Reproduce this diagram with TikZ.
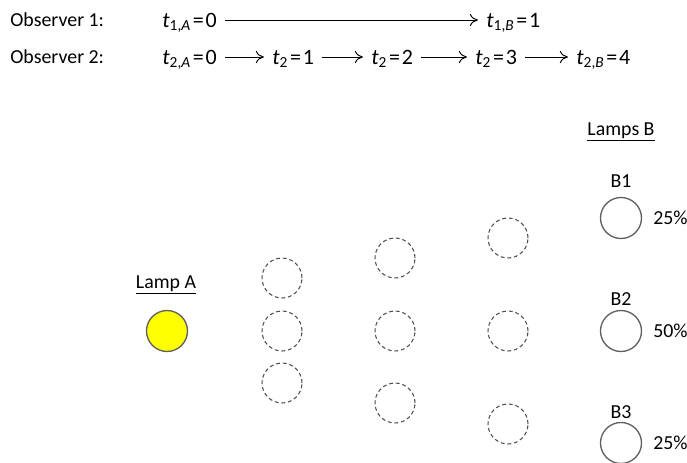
\documentclass[tikz,border=0pt]{standalone}
\usepackage{fontspec}
\setmainfont{Carlito}
\usepackage{xcolor}
\definecolor{lampline}{RGB}{95,95,95}
\definecolor{lampdash}{RGB}{80,80,80}
\definecolor{lampon}{RGB}{255,255,0}
\usepackage{tikz}
\usetikzlibrary{arrows.meta,positioning}

\newcommand{\tsub}[2]{\textit{t}\textsubscript{#1}\kern0.08em=\kern0.08em#2}

\begin{document}
\begin{tikzpicture}[
        x=0.02cm, y=-0.02cm,
        every node/.style={font=\fontsize{11.3}{13}\selectfont},
        lbl/.style={anchor=west, inner sep=0pt, text height=7.3pt, text depth=0pt},
        tlbl/.style={lbl, font=\fontsize{12.5}{14}\selectfont, text height=8pt},
        arrow/.style={-{To[length=4.6pt,width=7pt]}, line width=0.55pt, shorten <=4.6pt, shorten >=4.6pt},
        lamp/.style={circle, draw=lampline, line width=0.75pt, minimum size=0.82cm, inner sep=0pt},
        ghost/.style={circle, draw=lampdash, line width=0.6pt, dash pattern=on 2.2pt off 1.6pt, minimum size=0.8cm, inner sep=0pt}
    ]
        \useasboundingbox (0,0) rectangle (687,463);

        % observers
        \node[lbl] (obs1) at (10,20) {Observer 1:};
        \node[tlbl] (t1A) at (162,20) {\tsub{1,\textit{A}}{0}};
        \node[tlbl] (t1B) at (486,20) {\tsub{1,\textit{B}}{1}};
        \draw[arrow] (t1A) -- (t1B);

        \node[lbl] (obs2) at (10,57) {Observer 2:};
        \node[tlbl] (t2A) at (162,57) {\tsub{2,\textit{A}}{0}};
        \node[tlbl] (t21) at (272,57) {\tsub{2}{1}};
        \node[tlbl] (t22) at (371,57) {\tsub{2}{2}};
        \node[tlbl] (t23) at (475,57) {\tsub{2}{3}};
        \node[tlbl] (t2B) at (576,57) {\tsub{2,\textit{B}}{4}};
        \draw[arrow] (t2A) -- (t21);
        \draw[arrow] (t21) -- (t22);
        \draw[arrow] (t22) -- (t23);
        \draw[arrow] (t23) -- (t2B);

        % lamp A
        \node (lampAlbl) at (166,285) {\underline{Lamp A}};
        \node[lamp, fill=lampon] (lampA) at (167,331) {};

        % intermediate positions
        \node[ghost] (g1a) at (282,278) {};
        \node[ghost] (g1b) at (282,331) {};
        \node[ghost] (g1c) at (282,383) {};
        \node[ghost] (g2a) at (395,258) {};
        \node[ghost] (g2b) at (395,331) {};
        \node[ghost] (g2c) at (395,403) {};
        \node[ghost] (g3a) at (508,238) {};
        \node[ghost] (g3b) at (508,331) {};
        \node[ghost] (g3c) at (508,424) {};

        % lamps B
        \node (lampsBlbl) at (621,132) {\underline{Lamps B}};
        \node (b1lbl) at (621,181) {B1};
        \node[lamp] (b1) at (621,218) {};
        \node[anchor=west, inner sep=0pt] (p1) at (653,218) {25\%};
        \node (b2lbl) at (621,299) {B2};
        \node[lamp] (b2) at (621,331) {};
        \node[anchor=west, inner sep=0pt] (p2) at (653,331) {50\%};
        \node (b3lbl) at (621,412) {B3};
        \node[lamp] (b3) at (621,443) {};
        \node[anchor=west, inner sep=0pt] (p3) at (653,443) {25\%};
    \end{tikzpicture}
\end{document}
